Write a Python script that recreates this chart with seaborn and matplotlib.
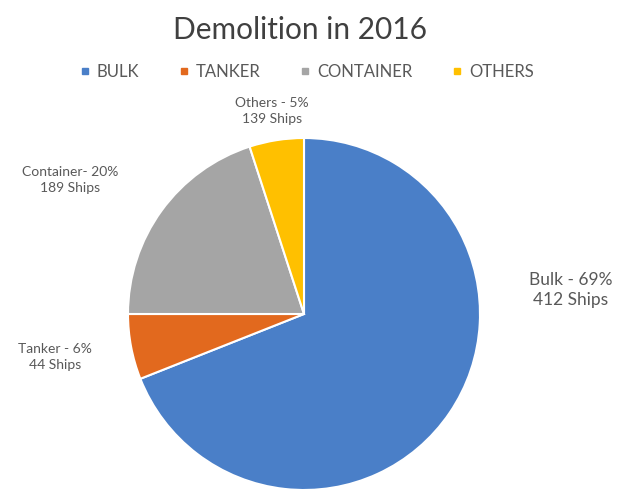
import matplotlib
matplotlib.use("Agg")
import matplotlib.pyplot as plt
import seaborn as sns
from matplotlib.lines import Line2D

categories = ["BULK", "TANKER", "CONTAINER", "OTHERS"]
shares = [69, 6, 20, 5]
ships = [412, 44, 189, 139]
label_names = ["Bulk - ", "Tanker - ", "Container- ", "Others - "]
colors = ["#4A7FC8", "#E2691E", "#A5A5A5", "#FFC000"]

sns.set_theme(style="white")
plt.rcParams['font.family'] = ['Lato', 'DejaVu Sans']

W, H = 633, 493
fig = plt.figure(figsize=(W / 100, H / 100), dpi=100)
fig.patch.set_facecolor("white")

def px(x, y):
    return x / W, 1 - y / H

cx, cy, r = 304, 314, 176
ax = fig.add_axes([(cx - r) / W, (H - cy - r) / H, 2 * r / W, 2 * r / H])
ax.pie(shares, colors=colors, startangle=90, counterclock=False,
       wedgeprops=dict(edgecolor="white", linewidth=1.5))
ax.set_xlim(-1, 1)
ax.set_ylim(-1, 1)
ax.set_aspect("equal")
ax.axis("off")

fig.text(*px(300, 30), "Demolition in 2016", ha="center", va="center",
         fontsize=21.5, color="#404040")

handles = [Line2D([0], [0], marker="s", linestyle="", markersize=5,
                  markerfacecolor=c, markeredgecolor=c) for c in colors]
leg = fig.legend(handles, categories, loc="center", bbox_to_anchor=px(306, 72),
                 ncol=4, frameon=False, fontsize=12, handletextpad=0.3,
                 columnspacing=2.3, handlelength=0.8)
for t in leg.get_texts():
    t.set_color("#595959")

label_pos = [(571, 290), (55, 357), (70, 180), (272, 111)]
label_sizes = [12.5, 10, 10, 10]
for name, s, n, (x, y), fs in zip(label_names, shares, ships, label_pos, label_sizes):
    fig.text(*px(x, y), f"{name}{s}%\n{n} Ships", ha="center", va="center",
             fontsize=fs, color="#595959", linespacing=1.35)

fig.savefig("out.png", dpi=100, facecolor="white")
